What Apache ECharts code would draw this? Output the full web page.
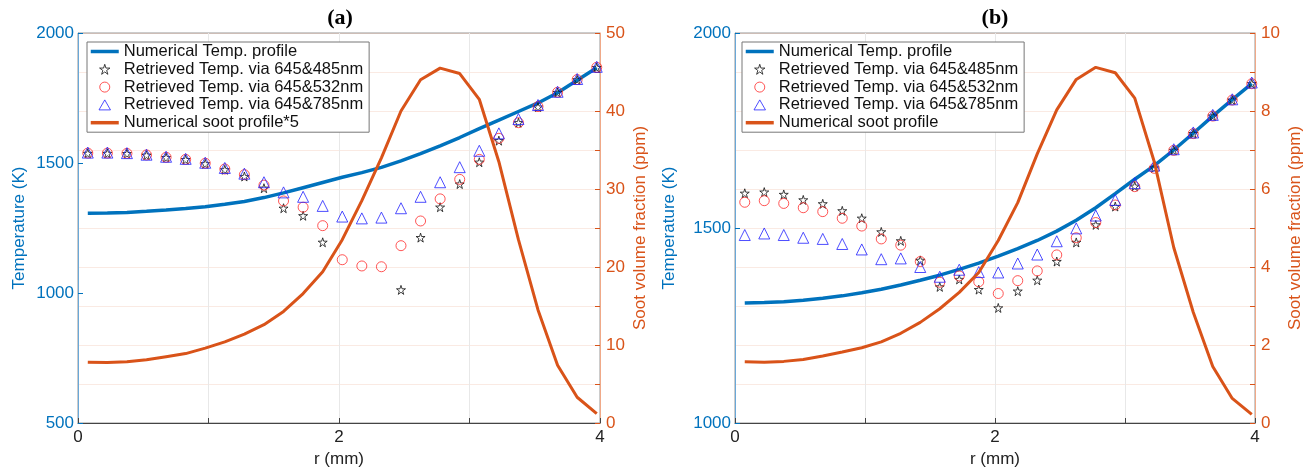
<!DOCTYPE html>
<html lang="en">
<head>
<meta charset="UTF-8">
<title>Temperature and soot profiles</title>
<script src="https://cdn.jsdelivr.net/npm/echarts@6/dist/echarts.min.js"></script>
</head>
<body style="margin:0;background:#fff">
<div id="main" style="width:1313px;height:473px;"></div>
<script>
// radial positions (mm), same grid for both panels
var r = [0.075, 0.225, 0.375, 0.525, 0.675, 0.825, 0.975, 1.125, 1.275, 1.425, 1.575, 1.725, 1.875, 2.025,
         2.175, 2.325, 2.475, 2.625, 2.775, 2.925, 3.075, 3.225, 3.375, 3.525, 3.675, 3.825, 3.975];

// panel (a)
var tempNumA = [1307, 1308, 1310, 1314, 1319, 1325, 1332, 1341, 1352, 1367, 1385, 1405, 1425, 1445,
                1463, 1483, 1508, 1536, 1566, 1598, 1632, 1665, 1698, 1731, 1770, 1818, 1866];
var t485A = [1537, 1537, 1536, 1530, 1521, 1513, 1497, 1474, 1448, 1403, 1326, 1297, 1195, '-',
             '-', '-', 1012, 1213, 1330, 1419, 1503, 1586, 1655, 1715, 1771, 1820, 1867];
var t532A = [1538, 1538, 1537, 1531, 1522, 1514, 1499, 1477, 1455, 1415, 1354, 1330, 1259, 1128,
             1104, 1101, 1182, 1277, 1362, 1437, 1514, 1595, 1655, 1717, 1772, 1821, 1868];
var t785A = [1540, 1540, 1538, 1532, 1524, 1516, 1501, 1481, 1459, 1426, 1387, 1370, 1335, 1294,
             1287, 1290, 1326, 1370, 1426, 1484, 1547, 1614, 1669, 1723, 1774, 1823, 1870];
var sootA = [7.8, 7.75, 7.85, 8.1, 8.5, 8.9, 9.6, 10.4, 11.4, 12.6, 14.3, 16.6, 19.4, 23.5,
             28.5, 34.0, 40.0, 44.0, 45.5, 44.8, 41.5, 33.5, 23.5, 14.5, 7.4, 3.3, 1.2];

// panel (b)
var tempNumB = [1308, 1309, 1311, 1315, 1320, 1326, 1334, 1343, 1354, 1366, 1379, 1394, 1410, 1428,
                1447, 1468, 1492, 1520, 1552, 1588, 1625, 1660, 1700, 1743, 1787, 1829, 1870];
var t485B = [1589, 1592, 1586, 1572, 1562, 1544, 1525, 1490, 1467, 1417, 1349, 1368, 1342, 1295,
             1338, 1366, 1414, 1463, 1508, 1555, 1607, 1654, 1699, 1742, 1787, 1828, 1870];
var t532B = [1566, 1570, 1563, 1552, 1542, 1525, 1505, 1472, 1456, 1414, 1361, 1377, 1362, 1332,
             1365, 1390, 1431, 1475, 1514, 1559, 1606, 1653, 1699, 1742, 1787, 1828, 1870];
var t785B = [1482, 1486, 1482, 1475, 1472, 1459, 1445, 1420, 1422, 1400, 1375, 1393, 1387, 1386,
             1409, 1432, 1466, 1499, 1532, 1572, 1615, 1660, 1702, 1745, 1790, 1830, 1873];
var sootB = [1.57, 1.56, 1.58, 1.63, 1.72, 1.82, 1.93, 2.08, 2.30, 2.58, 2.93, 3.35, 3.86, 4.68,
             5.65, 6.9, 8.03, 8.81, 9.12, 8.98, 8.33, 6.7, 4.5, 2.84, 1.45, 0.63, 0.22];

var blue = '#0072BD', orange = '#D95319';
var font = 'Liberation Sans';
var star = 'path://M50,2 L61,37 L98,37 L68,59 L79,95 L50,73 L21,95 L32,59 L2,37 L39,37 Z';
var tri = 'path://M50,0 L100,87 L0,87 Z';
var ring = 'path://M50,0 A50,50 0 1,1 49.99,0 Z';

var starStyle = { color: 'transparent', borderColor: '#111', borderWidth: 1 };
var circStyle = { color: 'transparent', borderColor: '#ff2a2a', borderWidth: 1 };
var triStyle = { color: 'transparent', borderColor: '#2222ff', borderWidth: 1 };

function pts(ys) {
    return r.map(function (x, i) { return [x, ys[i]]; });
}

function xAx(g) {
    return {
        gridIndex: g, type: 'value', min: 0, max: 4, interval: 1,
        name: 'r (mm)', nameLocation: 'middle', nameGap: 24,
        nameTextStyle: { fontSize: 17, color: '#222', fontFamily: font },
        axisLine: { show: true, lineStyle: { color: '#444' } },
        axisTick: { show: true, inside: true, length: 5, lineStyle: { color: '#444' } },
        axisLabel: { fontSize: 17, color: '#222', margin: 6, fontFamily: font,
            formatter: function (v) { return v % 2 === 0 ? String(v) : ''; } },
        splitLine: { show: true, lineStyle: { color: '#e8e8e8' } }
    };
}

function leftAx(g, min, gap) {
    return {
        gridIndex: g, type: 'value', position: 'left', min: min, max: 2000, interval: 500,
        name: 'Temperature (K)', nameLocation: 'middle', nameGap: gap, nameRotate: 90,
        nameTextStyle: { fontSize: 17, color: blue, fontFamily: font },
        axisLine: { show: true, lineStyle: { color: '#6aa8d8' } },
        axisTick: { show: true, inside: true, length: 5, lineStyle: { color: blue } },
        axisLabel: { fontSize: 17, color: blue, margin: 4, fontFamily: font,
            formatter: function (v) { return String(v); } },
        splitLine: { show: false }
    };
}

function rightAx(g, max, step, lab) {
    return {
        gridIndex: g, type: 'value', position: 'right', min: 0, max: max, interval: step,
        name: 'Soot volume fraction (ppm)', nameLocation: 'middle', nameGap: 32, nameRotate: 90,
        nameTextStyle: { fontSize: 17, color: orange, fontFamily: font },
        axisLine: { show: true, lineStyle: { color: '#f0a988' } },
        axisTick: { show: true, inside: true, length: 5, lineStyle: { color: orange } },
        axisLabel: { fontSize: 17, color: orange, margin: 6, fontFamily: font,
            formatter: function (v) { return Math.round(v) % lab === 0 ? String(Math.round(v)) : ''; } },
        splitLine: { show: true, lineStyle: { color: 'rgba(217,83,25,0.12)' } }
    };
}

function markers(name, ys, g, shape) {
    var s = {
        name: name, type: 'scatter', xAxisIndex: g, yAxisIndex: g * 2, data: pts(ys), z: 4,
        symbolSize: 10, symbol: 'circle', itemStyle: circStyle
    };
    if (shape === 'star') { s.symbol = star; s.symbolSize = 9; s.itemStyle = starStyle; }
    if (shape === 'tri') { s.symbol = 'triangle'; s.symbolSize = 11; s.itemStyle = triStyle; }
    return s;
}

function panelSeries(g, tNum, t485, t532, t785, soot, sootName) {
    return [
        { name: 'Numerical Temp. profile', type: 'line', xAxisIndex: g, yAxisIndex: g * 2,
          data: pts(tNum), showSymbol: false, symbol: 'none', z: 3,
          lineStyle: { color: blue, width: 3.5 }, itemStyle: { color: blue } },
        markers('Retrieved Temp. via 645&485nm', t485, g, 'star'),
        markers('Retrieved Temp. via 645&532nm', t532, g, 'circle'),
        markers('Retrieved Temp. via 645&785nm', t785, g, 'tri'),
        { name: sootName, type: 'line', xAxisIndex: g, yAxisIndex: g * 2 + 1,
          data: pts(soot), showSymbol: false, symbol: 'none', z: 5,
          lineStyle: { color: orange, width: 3 }, itemStyle: { color: orange } }
    ];
}

function legend(left, sootName) {
    var hide = { opacity: 0, borderWidth: 0 };
    return {
        orient: 'vertical', left: left, top: 42, itemWidth: 28, itemHeight: 10, itemGap: 0.8,
        padding: [1, 6, 1, 2], backgroundColor: '#fff', borderColor: '#777', borderWidth: 1,
        textStyle: { fontSize: 16.5, color: '#111', fontFamily: font, lineHeight: 16 },
        data: [
            { name: 'Numerical Temp. profile', itemStyle: hide, lineStyle: { color: blue, width: 3.5 } },
            { name: 'Retrieved Temp. via 645&485nm', icon: star, itemStyle: starStyle },
            { name: 'Retrieved Temp. via 645&532nm', icon: ring, itemStyle: circStyle },
            { name: 'Retrieved Temp. via 645&785nm', icon: tri, itemStyle: triStyle },
            { name: sootName, itemStyle: hide, lineStyle: { color: orange, width: 3.5 } }
        ]
    };
}

var chart = echarts.init(document.getElementById('main'));
chart.setOption({
    animation: false,
    textStyle: { fontFamily: font },
    grid: [
        { left: 78, right: 713, top: 33, bottom: 50, show: true, borderColor: '#999', borderWidth: 1 },
        { left: 735, right: 58, top: 33, bottom: 50, show: true, borderColor: '#999', borderWidth: 1 }
    ],
    graphic: [
        { type: 'text', x: 340, y: 18, style: { text: '(a)', textAlign: 'center', textVerticalAlign: 'middle',
          font: 'bold 22px "Liberation Serif"', fill: '#000' } },
        { type: 'text', x: 995, y: 18, style: { text: '(b)', textAlign: 'center', textVerticalAlign: 'middle',
          font: 'bold 22px "Liberation Serif"', fill: '#000' } }
    ],
    legend: [legend(87, 'Numerical soot profile*5'), legend(742, 'Numerical soot profile')],
    xAxis: [xAx(0), xAx(1)],
    yAxis: [leftAx(0, 500, 50), rightAx(0, 50, 5, 10), leftAx(1, 1000, 57), rightAx(1, 10, 1, 2)],
    series: panelSeries(0, tempNumA, t485A, t532A, t785A, sootA, 'Numerical soot profile*5')
        .concat(panelSeries(1, tempNumB, t485B, t532B, t785B, sootB, 'Numerical soot profile'))
});
</script>
</body>
</html>
